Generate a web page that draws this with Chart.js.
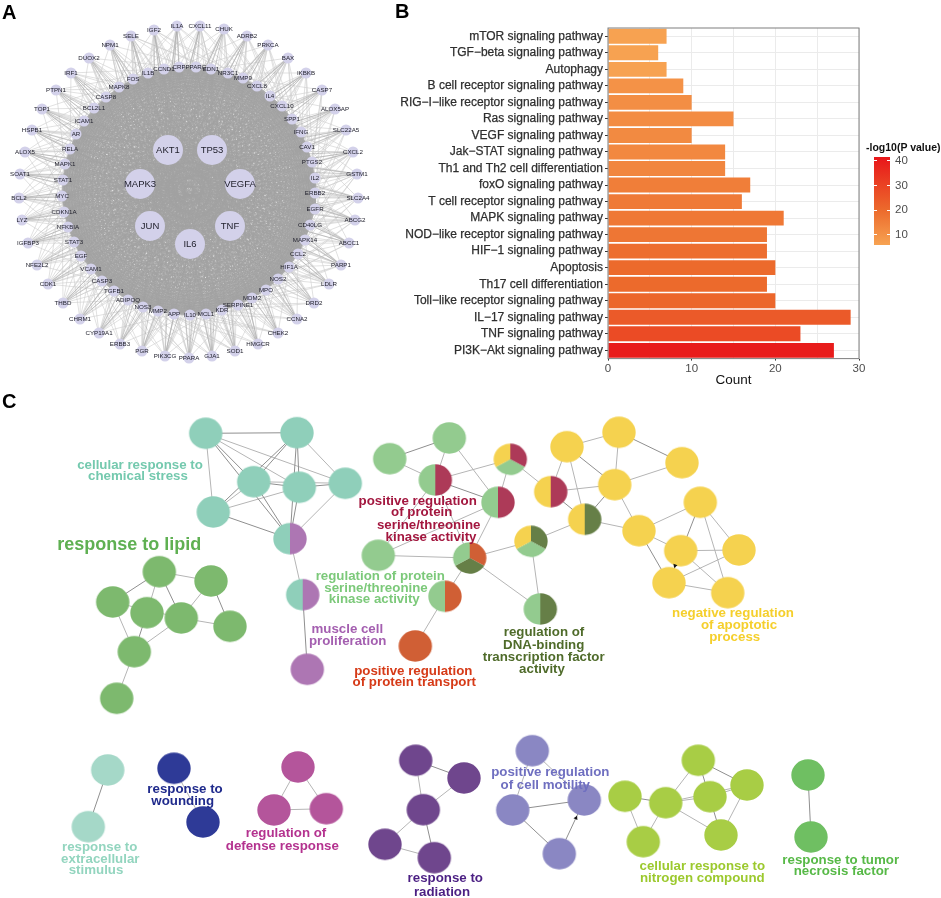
<!DOCTYPE html>
<html>
<head>
<meta charset="utf-8">
<title>Network, pathway and GO term figure</title>
<script src="https://cdn.jsdelivr.net/npm/chart.js@4/dist/chart.umd.min.js"></script>
<style>
    html, body { margin: 0; padding: 0; background: #fff; }
    #page { position: relative; width: 941px; height: 898px; overflow: hidden; }
    canvas { position: absolute; }
    .panel-letter { position: absolute; font: bold 20px "Liberation Sans", Arial, sans-serif; color: #000; line-height: 20px; }
    #colorbar-title { position: absolute; left: 866px; top: 141px; font: bold 10.5px "Liberation Sans", Arial, sans-serif; color: #111; line-height: 12px; white-space: nowrap; }
</style>
</head>
<body>
<div id="page">
    <canvas id="network-chart" width="390" height="385" style="left:0;top:0"></canvas>
    <canvas id="pathway-chart" width="551" height="390" style="left:390px;top:0"></canvas>
    <canvas id="colorbar-chart" width="75" height="119" style="left:866px;top:138px"></canvas>
    <canvas id="terms-chart" width="941" height="513" style="left:0;top:385px"></canvas>
    <div id="colorbar-title">-log10(P value)</div>
    <div class="panel-letter" style="left:2px;top:2px">A</div>
    <div class="panel-letter" style="left:395px;top:1px">B</div>
    <div class="panel-letter" style="left:2px;top:391px">C</div>
</div>
<script>
const FONT = '"Liberation Sans", Arial, sans-serif';

// Panel A: protein network, layout positions
const outerNames = ['SELE','IGF2','IL1A','CXCL11','CHUK','ADRB2','PRKCA','BAX','IKBKB','CASP7','ALOX5AP','SLC22A5','CXCL2','GSTM1','SLC2A4','ABCG2','ABCC1','PARP1','LDLR','DRD2','CCNA2','CHEK2','HMGCR','SOD1','GJA1','PPARA','PIK3CG','PGR','ERBB3','CYP19A1','CHRM1','THBD','CDK1','NFE2L2','IGFBP3','LYZ','BCL2','SOAT1','ALOX5','HSPB1','TOP1','PTPN1','IRF1','DUOX2','NPM1'];
const outerX = [131,154,177,200,224,247,268,288,306,322,335,346,353,357,358,355,349,341,329,314,297,278,258,235,212,189,165,142,120,99,80,63,48,37,28,22,19,20,25,32,42,56,71,89,110];
const outerY = [36,30,26,26,29,36,45,58,73,90,109,130,152,174,198,220,243,265,284,303,319,333,344,351,356,358,356,351,344,333,319,303,284,265,243,220,198,174,152,130,109,90,73,58,45];
const innerNames = ['IL1B','CCND1','CRP','PPARG','EDN1','NR3C1','MMP9','CXCL8','IL4','CXCL10','SPP1','IFNG','CAV1','PTGS2','IL2','ERBB2','EGFR','CD40LG','MAPK14','CCL2','HIF1A','NOS2','MPO','MDM2','SERPINE1','KDR','MCL1','IL10','APP','MMP2','NOS3','ADIPOQ','TGFB1','CASP3','VCAM1','EGF','STAT3','NFKBIA','CDKN1A','MYC','STAT1','MAPK1','RELA','AR','ICAM1','BCL2L1','CASP8','MAPK8','FOS'];
const innerX = [148,164,179,196,211,228,243,257,270,282,292,301,307,312,315,315,315,310,305,298,289,278,266,252,238,222,206,190,174,158,143,128,114,102,91,81,74,68,64,62,63,65,70,76,84,94,106,119,133];
const innerY = [73,69,67,67,69,73,78,86,96,106,119,132,147,162,178,193,209,225,240,254,267,279,290,298,305,310,314,315,314,311,307,300,291,281,269,256,242,227,212,196,180,164,149,134,121,108,97,87,79];
const hubNames = ['AKT1','TP53','MAPK3','VEGFA','JUN','TNF','IL6'];
const hubX = [168,212,140,240,150,230,190];
const hubY = [150,150,184,184,226,226,244];
// which inner-ring proteins each outer protein links to (same order as outerNames)
const outerLinks = [
    [48,0,2,4,7,47,20],[0,1,3,6,9,46,26],[1,2,5,8,48,45,30],[2,4,6,10,0,47,22],[3,5,7,9,12,1,33],
    [5,6,8,11,2,14,36],[6,7,9,13,3,16,28],[7,8,10,12,4,18,38],[8,9,11,14,5,17,40],[9,10,13,16,6,19,43],
    [11,12,15,8,20],[12,13,16,9,22,45],[13,14,15,17,10,19,30,47],[14,16,18,11,21],[15,17,19,12,24,35],
    [16,17,18,20,13,23,38],[17,19,21,14,26],[18,20,22,15,24,28,41],[20,21,23,17,26,44],[21,22,24,18,27],
    [22,23,25,19,29,47],[23,24,26,20,28,31],[24,25,27,21,30,0],[25,26,28,22,31,34],[26,27,29,23,32,4],
    [27,28,30,24,33,37],[28,29,31,25,34,8],[29,30,32,26,35,12],[30,31,33,27,36,10],[31,32,34,28,37,15],
    [33,34,35,30,38],[34,35,36,31,39,18],[35,36,37,32,40,20],[36,37,38,33,41],[37,38,39,34,42,5,14],
    [38,39,40,35,43],[39,40,41,36,44],[40,41,42,37,45],[41,42,43,38,46,9],[42,43,44,39,47,12],
    [43,44,45,40,48,16],[44,45,46,41,0,7],[45,46,47,42,1,10,23],[46,47,48,43,2],[47,48,0,44,3,27]
];
// long links across the middle of the network, outer protein to inner-ring protein
const crossLinks = [
    [25,26,28],[26,27,29],[27,29,30],[28,30,31],[29,31,33],[30,32,34],[31,33,35],[32,34,36],[33,35,37],
    [34,36,38],[35,37,39],[36,38,40],[37,39,41],[38,41,43],[39,42,44],[40,43,45],[41,44,46],[42,45,47],
    [43,46,48],[44,47,0],[45,48,1],[46,0,2],[47,1,3],[48,2,4],[0,3,5],[1,4,6],[2,5,7],[3,6,8],[4,7,9],
    [5,8,10],[7,9,11],[8,10,12],[9,11,13],[10,12,14],[11,13,15],[12,14,16],[13,15,17],[14,16,18],[15,17,19],
    [16,18,20],[17,19,21],[18,20,22],[19,21,23],[20,22,24],[21,23,25]
];

// Panel B: enriched pathways
const pathwayNames = ['mTOR signaling pathway','TGF\u2212beta signaling pathway','Autophagy','B cell receptor signaling pathway','RIG\u2212I\u2212like receptor signaling pathway','Ras signaling pathway','VEGF signaling pathway','Jak\u2212STAT signaling pathway','Th1 and Th2 cell differentiation','foxO signaling pathway','T cell receptor signaling pathway','MAPK signaling pathway','NOD\u2212like receptor signaling pathway','HIF\u22121 signaling pathway','Apoptosis','Th17 cell differentiation','Toll\u2212like receptor signaling pathway','IL\u221217 signaling pathway','TNF signaling pathway','PI3K\u2212Akt signaling pathway'];
const pathwayCounts = [7,6,7,9,10,15,10,14,14,17,16,21,19,19,20,19,20,29,23,27];
const pathwayLogP = [6,6,6,10,11,11.5,12,12.5,13,15,16,16.5,17,19,20,20,21,24,28,40];
const colorbarTicks = [10,20,30,40];
const logPRange = [5.7,41.6];

// Panel C: GO term clusters, layout positions
const termColors = {
    chem: '#8fcfba', muscle: '#ad76b3', lipid: '#7db96e', kinase: '#93cb8f', serine: '#ad3a58',
    transport: '#d05f35', apoptotic: '#f5d24f', dna: '#667f47', extra: '#a5d8c8', wound: '#2e3a97',
    defense: '#b4559b', radiation: '#6f468d', motility: '#8a87c3', nitrogen: '#a8cd45', tumor: '#6fbf62'
};
const nodeIds = ['t1','t2','t3','t4','t5','t6','p1','p2','m','g1','g2','g3','g4','g5','g6','g7','g8','l1','l2','A','B','C','D','y1','y2','y3','y4','E','y5','y6','y7','y8','y9','y10','F','l3','G','H','o','I','e1','e2','w1','w2','r1','r2','r3','d1','d2','d3','d4','d5','c1','c2','c3','c4','n1','n2','n3','n4','n5','n6','n7','f1','f2'];
const nodeX = [205.7,297,253.7,299.3,345.3,213.3,290,302.7,307.3,159.3,211,112.7,147,181.3,230,134.3,116.7,389.7,449.3,435.3,510.3,498,550.7,567,619,682,614.7,584.7,639,700.3,680.7,739,669,727.7,531,378.3,469.7,445,415.3,540.3,107.7,88.3,174,203,298,274,326.3,415.7,464,423.3,385,434.3,532.3,512.7,584.3,559.3,698.3,747,625,665.7,710,721,643.3,808,811];
const nodeY = [433.3,432.7,481.7,487.3,483.3,512,538.7,594.7,669.3,571.7,581,602,612.7,618,626.3,651.7,698.3,458.7,438,480,459.3,502.3,491.7,446.7,432.3,462.7,484.7,519.3,530.7,502.3,550.7,550,582.7,592.7,541.3,555.3,558,596.3,646,609,770,826.7,768.3,822,767,810,808.7,760.3,778,809.7,844.3,857.7,750.7,810,800,853.7,760.3,785,796.3,802.7,796.7,835,841.7,775,837];
// clockwise from 12 o'clock; the last term takes the left side
const nodeTerms = [['chem'],['chem'],['chem'],['chem'],['chem'],['chem'],['muscle','chem'],['muscle','chem'],['muscle'],
    ['lipid'],['lipid'],['lipid'],['lipid'],['lipid'],['lipid'],['lipid'],['lipid'],
    ['kinase'],['kinase'],['serine','kinase'],['serine','kinase','apoptotic'],['serine','kinase'],['serine','apoptotic'],
    ['apoptotic'],['apoptotic'],['apoptotic'],['apoptotic'],['dna','apoptotic'],['apoptotic'],['apoptotic'],['apoptotic'],['apoptotic'],['apoptotic'],['apoptotic'],
    ['dna','kinase','apoptotic'],['kinase'],['transport','dna','kinase'],['transport','kinase'],['transport'],['dna','kinase'],
    ['extra'],['extra'],['wound'],['wound'],['defense'],['defense'],['defense'],
    ['radiation'],['radiation'],['radiation'],['radiation'],['radiation'],
    ['motility'],['motility'],['motility'],['motility'],
    ['nitrogen'],['nitrogen'],['nitrogen'],['nitrogen'],['nitrogen'],['nitrogen'],['nitrogen'],['tumor'],['tumor']];
const lightEdges = [['t1','t4'],['t1','t5'],['t2','t5'],['t3','t5'],['t3','t6'],['t4','t6'],['t5','p1'],['t1','t6'],['p1','p2'],
    ['g1','g2'],['g1','g4'],['g2','g5'],['g3','g5'],['g5','g6'],['g3','g7'],['g5','g7'],['g7','g8'],
    ['l1','A'],['l2','A'],['l2','C'],['A','B'],['B','C'],['B','D'],['A','G'],['l3','G'],['C','l3'],['A','l3'],['C','G'],['G','F'],['G','I'],['F','E'],['F','I'],['G','H'],['H','o'],
    ['D','y1'],['D','y4'],['y1','y2'],['y1','E'],['y2','y4'],['y3','y4'],['y4','y5'],['E','y5'],['y5','y6'],['y5','y7'],['y6','y8'],['y6','y10'],['y7','y8'],['y7','y10'],['y8','y9'],['y9','y10'],
    ['w1','w2'],['r1','r2'],['r1','r3'],['r2','r3'],['d1','d3'],['d2','d3'],['d3','d4'],['d4','d5'],
    ['c1','c2'],['c1','c3'],['n1','n4'],['n3','n7'],['n4','n6'],['n2','n6'],['n4','n7'],['n5','n2'],['n4','n2'],['n5','n4']];
const darkEdges = [['t1','t2'],['t1','t3'],['t1','p1'],['t2','t3'],['t2','t4'],['t2','p1'],['t2','t6'],['t3','t4'],['t3','p1'],['t4','t5'],['t4','p1'],['t6','p1'],['p2','m'],
    ['g1','g3'],['g1','g5'],['g2','g6'],['g4','g7'],
    ['l1','l2'],['A','C'],['y2','y3'],['y1','y4'],['D','E'],['y4','E'],['y5','y9'],['y6','y9'],
    ['e1','e2'],['d1','d2'],['d3','d5'],['c2','c3'],['c2','c4'],['c4','c3'],['n1','n2'],['n1','n6'],['n3','n4'],['f1','f2']];
// one entry per printed line of a term label
const labelLines = ['cellular response to','chemical stress','response to lipid','positive regulation','of protein','serine/threonine','kinase activity','regulation of protein','serine/threonine','kinase activity','muscle cell','proliferation','positive regulation','of protein transport','regulation of','DNA-binding','transcription factor','activity','negative regulation','of apoptotic','process','response to','extracellular','stimulus','response to','wounding','regulation of','defense response','response to','radiation','positive regulation','of cell motility','cellular response to','nitrogen compound','response to tumor','necrosis factor'];
const labelX = [140,138,129.3,417.7,421.7,428.7,431,380.3,376,374.3,347.3,347.7,413.3,414.3,544,543.7,543.7,542,733,739,734.7,99.7,100.3,96,185,182.7,286,282.3,445.3,442,550.3,545.3,702.3,702.3,840.7,841.3];
const labelY = [465,476.5,545,501,512.5,525.5,537.5,576.5,588,599.5,629,641.5,671,682.5,632,645.5,657.5,669,613.5,625.5,637,847.5,859.5,870.5,789.5,801,833,846.5,878.5,892,772,785.5,866.5,878,860,871.5];
const labelColors = ['#74c9ae','#74c9ae','#5fb052','#a3173f','#a3173f','#a3173f','#a3173f','#7cc97a','#7cc97a','#7cc97a','#a45fb0','#a45fb0','#d63a17','#d63a17','#4f6b2a','#4f6b2a','#4f6b2a','#4f6b2a','#f5cf2c','#f5cf2c','#f5cf2c','#93d5bf','#93d5bf','#93d5bf','#1f2a8c','#1f2a8c','#b4328f','#b4328f','#4b1f83','#4b1f83','#6f6fc0','#6f6fc0','#9cc92e','#9cc92e','#57b947','#57b947'];
const arrowX = [675,576];
const arrowY = [565.7,818];
const arrowAngles = [201,25];

function segments(pairs) {
    const points = [];
    pairs.forEach(([a, b]) => {
        points.push(a, b, { x: NaN, y: NaN });
    });
    return points;
}

function hiddenAxes(xMin, xMax, yMin, yMax) {
    return {
        x: { type: 'linear', display: false, min: xMin, max: xMax },
        y: { type: 'linear', display: false, min: yMin, max: yMax, reverse: true }
    };
}

// colour ramp of the legend: light orange, orange, red
function logPColor(v) {
    const stops = [[5.7, 247, 163, 82], [20, 236, 106, 44], [41.6, 232, 22, 26]];
    const hi = v <= 20 ? 1 : 2;
    const a = stops[hi - 1], b = stops[hi];
    const t = (v - a[0]) / (b[0] - a[0]);
    const mix = k => Math.round(a[k] + (b[k] - a[k]) * t);
    return `rgb(${mix(1)},${mix(2)},${mix(3)})`;
}

function initNetworkChart() {
    const outer = outerNames.map((_, i) => ({ x: outerX[i], y: outerY[i] }));
    const inner = innerNames.map((_, i) => ({ x: innerX[i], y: innerY[i] }));
    const hubs = hubNames.map((_, i) => ({ x: hubX[i], y: hubY[i] }));

    const core = inner.concat(hubs);
    const corePairs = [];
    for (let i = 0; i < core.length; i++) {
        for (let j = i + 1; j < core.length; j++) corePairs.push([core[i], core[j]]);
    }
    crossLinks.forEach((links, i) => links.forEach(k => corePairs.push([outer[i], inner[k]])));
    const rimPairs = [];
    outerLinks.forEach((links, i) => links.forEach(k => rimPairs.push([outer[i], inner[k]])));
    outer.forEach(o => hubs.forEach(h => rimPairs.push([o, h])));

    const nodeLabels = {
        id: 'nodeLabels',
        afterDatasetsDraw(chart) {
            const { ctx, scales } = chart;
            ctx.save();
            ctx.fillStyle = '#22222e';
            ctx.textAlign = 'center';
            ctx.textBaseline = 'middle';
            ctx.font = `6.2px ${FONT}`;
            outerNames.forEach((n, i) => ctx.fillText(n, scales.x.getPixelForValue(outerX[i]), scales.y.getPixelForValue(outerY[i])));
            innerNames.forEach((n, i) => ctx.fillText(n, scales.x.getPixelForValue(innerX[i]), scales.y.getPixelForValue(innerY[i])));
            ctx.font = `9.5px ${FONT}`;
            hubNames.forEach((n, i) => ctx.fillText(n, scales.x.getPixelForValue(hubX[i]), scales.y.getPixelForValue(hubY[i])));
            ctx.restore();
        }
    };

    new Chart(document.getElementById('network-chart'), {
        type: 'scatter',
        data: {
            datasets: [
                { data: outer.concat(inner), order: 1, pointRadius: 5.5, pointBackgroundColor: '#d3d1ea', pointBorderWidth: 0 },
                { data: hubs, order: 0, pointRadius: 15, pointBackgroundColor: '#d3d1ea', pointBorderWidth: 0 },
                { data: segments(corePairs), order: 2, showLine: true, pointRadius: 0, borderColor: '#a2a2a2', borderWidth: 0.55 },
                { data: segments(rimPairs), order: 3, showLine: true, pointRadius: 0, borderColor: '#cdcdcd', borderWidth: 0.6 }
            ]
        },
        options: {
            responsive: false,
            animation: false,
            events: [],
            layout: { padding: 0, autoPadding: false },
            scales: hiddenAxes(0, 390, 0, 385),
            plugins: { legend: { display: false }, tooltip: { enabled: false } }
        },
        plugins: [nodeLabels]
    });
}

function initPathwayChart() {
    const frame = {
        id: 'frame',
        afterDraw(chart) {
            const { ctx, chartArea: a } = chart;
            ctx.save();
            ctx.strokeStyle = '#7f7f7f';
            ctx.lineWidth = 1;
            ctx.strokeRect(a.left, a.top, a.right - a.left, a.bottom - a.top);
            ctx.restore();
        }
    };

    new Chart(document.getElementById('pathway-chart'), {
        type: 'bar',
        data: {
            labels: pathwayNames,
            datasets: [{
                data: pathwayCounts,
                backgroundColor: pathwayLogP.map(logPColor),
                barPercentage: 0.9,
                categoryPercentage: 1
            }]
        },
        options: {
            indexAxis: 'y',
            responsive: false,
            animation: false,
            events: [],
            layout: { padding: { top: 28, right: 82 } },
            scales: {
                x: {
                    min: 0,
                    max: 30,
                    ticks: {
                        stepSize: 5,
                        autoSkip: false,
                        maxRotation: 0,
                        padding: 1,
                        color: '#4d4d4d',
                        font: { family: FONT, size: 11.5 },
                        callback: v => (v % 10 === 0 ? v : '')
                    },
                    grid: {
                        color: '#ebebeb',
                        tickLength: 2,
                        tickColor: c => (c.tick && c.tick.value % 10 === 0 ? '#333' : 'transparent')
                    },
                    border: { display: false },
                    title: { display: true, text: 'Count', color: '#111', padding: { top: 1, bottom: 2 }, font: { family: FONT, size: 13.5 } },
                    afterFit(scale) { scale.height = 31.4; }
                },
                y: {
                    ticks: {
                        autoSkip: false,
                        padding: 2,
                        color: '#2e2e2e',
                        textStrokeColor: '#2e2e2e',
                        textStrokeWidth: 0.25,
                        font: { family: FONT, size: 12 }
                    },
                    grid: { color: '#ebebeb', tickLength: 3, tickColor: '#333', offset: false },
                    border: { display: false },
                    afterFit(scale) { scale.width = 218; }
                }
            },
            plugins: { legend: { display: false }, tooltip: { enabled: false } }
        },
        plugins: [frame]
    });
}

function initColorbarChart() {
    new Chart(document.getElementById('colorbar-chart'), {
        type: 'bar',
        data: {
            labels: ['-log10(P value)'],
            datasets: [{
                data: [logPRange],
                barPercentage: 1,
                categoryPercentage: 1,
                backgroundColor(c) {
                    const a = c.chart.chartArea;
                    if (!a) return '#f00';
                    const g = c.chart.ctx.createLinearGradient(0, a.bottom, 0, a.top);
                    g.addColorStop(0, logPColor(logPRange[0]));
                    g.addColorStop(0.4, logPColor(20));
                    g.addColorStop(1, logPColor(logPRange[1]));
                    return g;
                }
            }]
        },
        options: {
            responsive: false,
            animation: false,
            events: [],
            layout: { autoPadding: false, padding: { left: 8, right: 0, top: 19, bottom: 0 } },
            scales: {
                x: { display: false },
                y: {
                    position: 'right',
                    min: logPRange[0],
                    max: logPRange[1],
                    afterBuildTicks(scale) { scale.ticks = colorbarTicks.map(v => ({ value: v })); },
                    afterFit(scale) { scale.width = 51; },
                    ticks: { padding: 5, color: '#4d4d4d', font: { family: FONT, size: 11.5 } },
                    grid: { color: '#fff', z: 1, drawTicks: false },
                    border: { display: false, dash: [3, 10, 3, 0] }
                }
            },
            plugins: { legend: { display: false }, tooltip: { enabled: false } }
        }
    });
}

function makeNodeImage(terms) {
    const rx = 16.7, ry = 15.7;
    const c = document.createElement('canvas');
    c.width = 36;
    c.height = 34;
    const ctx = c.getContext('2d');
    const n = terms.length;
    terms.forEach((term, i) => {
        ctx.beginPath();
        if (n > 1) ctx.moveTo(18, 17);
        const start = -Math.PI / 2 + i * 2 * Math.PI / n;
        ctx.ellipse(18, 17, rx, ry, 0, start, start + 2 * Math.PI / n);
        ctx.closePath();
        ctx.fillStyle = termColors[term];
        ctx.fill();
    });
    return c;
}

function initTermsChart() {
    const pos = {};
    nodeIds.forEach((id, i) => { pos[id] = { x: nodeX[i], y: nodeY[i] }; });
    const images = nodeTerms.map(makeNodeImage);

    const termLabels = {
        id: 'termLabels',
        afterDatasetsDraw(chart) {
            const { ctx, scales } = chart;
            ctx.save();
            ctx.textAlign = 'center';
            ctx.textBaseline = 'middle';
            labelLines.forEach((line, i) => {
                ctx.fillStyle = labelColors[i];
                ctx.font = `bold ${line === 'response to lipid' ? 18 : 13.3}px ${FONT}`;
                ctx.fillText(line, scales.x.getPixelForValue(labelX[i]), scales.y.getPixelForValue(labelY[i]));
            });
            ctx.restore();
        }
    };

    new Chart(document.getElementById('terms-chart'), {
        type: 'scatter',
        data: {
            datasets: [
                {
                    data: nodeIds.map(id => pos[id]),
                    order: 1,
                    pointRadius: 17,
                    pointStyle: c => images[c.dataIndex]
                },
                {
                    data: arrowX.map((x, i) => ({ x, y: arrowY[i] })),
                    order: 0,
                    pointStyle: 'triangle',
                    pointRadius: 2.5,
                    pointRotation: arrowAngles,
                    pointBackgroundColor: '#111',
                    pointBorderWidth: 0
                },
                { data: segments(darkEdges.map(e => [pos[e[0]], pos[e[1]]])), order: 2, showLine: true, pointRadius: 0, borderColor: '#8f8f8f', borderWidth: 1 },
                { data: segments(lightEdges.map(e => [pos[e[0]], pos[e[1]]])), order: 3, showLine: true, pointRadius: 0, borderColor: '#b5b5b5', borderWidth: 1 }
            ]
        },
        options: {
            responsive: false,
            animation: false,
            events: [],
            layout: { padding: 0, autoPadding: false },
            scales: hiddenAxes(0, 941, 385, 898),
            plugins: { legend: { display: false }, tooltip: { enabled: false } }
        },
        plugins: [termLabels]
    });
}

document.addEventListener('DOMContentLoaded', () => {
    initNetworkChart();
    initPathwayChart();
    initColorbarChart();
    initTermsChart();
});
</script>
</body>
</html>
